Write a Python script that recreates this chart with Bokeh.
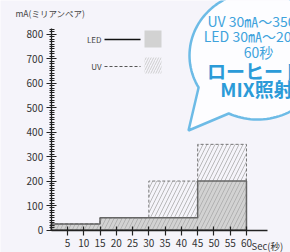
import numpy as np
from bokeh.plotting import figure
from bokeh.models import LinearAxis, FixedTicker, Range1d
from bokeh.core.properties import value
from bokeh.embed import file_html
from bokeh.resources import INLINE

# ---------------- data ----------------
time_edges = [0, 15, 30, 45, 60]          # seconds
led_ma = [25, 50, 50, 200]                 # LED current per interval
uv_ma = [25, 50, 200, 350]                 # UV current per interval
x_ticks = [5, 10, 15, 20, 25, 30, 35, 40, 45, 50, 55, 60]
y_ticks = [0, 100, 200, 300, 400, 500, 600, 700, 800]
y_minor_ticks = list(range(0, 830, 10))
x_title = "Sec(秒)"
y_title = "mA(ミリアンペア)"
legend_labels = ["LED", "UV"]
bubble_small = ["UV 30㎃～350㎃", "LED 30㎃～200㎃", "60秒"]
bubble_big = ["ローヒート", "MIX照射"]

FONT = "Noto Sans CJK JP"
BG = "#f5f4fa"
W, H = 290, 252

# page-pixel -> data helpers (layout only)
PX0, KX = 50.7, 3.2545
PY0, KY = 229.5, 0.2447
def dx(px):
    return (px - PX0) / KX
def dy(py):
    return (PY0 - py) / KY

p = figure(width=W, height=H, output_backend="svg", toolbar_location=None,
           x_range=Range1d(dx(0), dx(W)), y_range=Range1d(dy(H), dy(0)),
           x_axis_type=None, y_axis_type=None, min_border=0,
           background_fill_color=BG, border_fill_color=BG)
p.outline_line_color = None

# ---------------- step shapes ----------------
def step_polygon(edges, vals):
    xs, ys = [edges[0]], [0]
    for i, v in enumerate(vals):
        xs += [edges[i], edges[i + 1]]
        ys += [v, v]
    xs += [edges[-1]]
    ys += [0]
    return xs, ys

lx, ly = step_polygon(time_edges, led_ma)
ux, uy = step_polygon(time_edges, uv_ma)

p.patch(lx, ly, fill_color="#d2d2d2", line_color=None)
p.patch(ux, uy, fill_alpha=0, line_color=None,
        hatch_pattern="right_diagonal_line", hatch_color="#a9a9a9",
        hatch_scale=8, hatch_weight=0.8)
p.patch(ux, uy, fill_alpha=0, line_color="#777777", line_width=1, line_dash="3 2")
p.patch(lx, ly, fill_alpha=0, line_color="#666666", line_width=1.5)

# ---------------- axes ----------------
xax = LinearAxis(ticker=FixedTicker(ticks=x_ticks), fixed_location=0, bounds=(0, dx(267)))
xax.axis_line_color = "#222222"
xax.axis_line_width = 1.3
xax.major_tick_line_color = "#222222"
xax.major_tick_line_width = 1.2
xax.major_tick_in = 4
xax.major_tick_out = 5
xax.minor_tick_line_color = None
xax.major_label_standoff = 4
xax.major_label_text_font = FONT
xax.major_label_text_font_size = "10px"
xax.major_label_text_color = "#333333"
p.add_layout(xax, "below")

yax = LinearAxis(ticker=FixedTicker(ticks=y_ticks, minor_ticks=y_minor_ticks),
                 fixed_location=0, bounds=(0, dy(28)))
yax.axis_line_color = "#222222"
yax.axis_line_width = 1.3
yax.major_tick_line_color = "#222222"
yax.major_tick_line_width = 1.2
yax.major_tick_in = 5
yax.major_tick_out = 5
yax.minor_tick_line_color = "#222222"
yax.minor_tick_line_width = 1
yax.minor_tick_in = 3
yax.minor_tick_out = 2
yax.major_label_standoff = 3
yax.major_label_text_font = FONT
yax.major_label_text_font_size = "10px"
yax.major_label_text_color = "#333333"
p.add_layout(yax, "left")

# axis titles
p.text(x=[dx(15)], y=[dy(12)], text=[y_title], text_font=value(FONT),
       text_font_size="8.5px", text_color="#444444", text_baseline="middle", text_align="left")
p.text(x=[dx(251)], y=[dy(245)], text=[x_title], text_font=value(FONT),
       text_font_size="9.5px", text_color="#333333", text_baseline="middle", text_align="left")

# ---------------- legend ----------------
p.text(x=[dx(101), dx(101)], y=[dy(39), dy(66)], text=legend_labels, text_font=value(FONT),
       text_font_size="8px", text_color="#444444", text_baseline="middle", text_align="right")
p.line([dx(104), dx(140)], [dy(39), dy(39)], line_color="#111111", line_width=1.5)
p.line([dx(104), dx(140)], [dy(66), dy(66)], line_color="#555555", line_width=1, line_dash="3 2")
p.quad(left=[dx(144)], right=[dx(161)], top=[dy(30)], bottom=[dy(47)],
       fill_color="#d2d2d2", line_color=None)
p.quad(left=[dx(144)], right=[dx(161)], top=[dy(57)], bottom=[dy(73)],
       fill_alpha=0, line_color=None, hatch_pattern="right_diagonal_line",
       hatch_color="#c4c4c4", hatch_scale=5, hatch_weight=0.8)

# ---------------- speech bubble ----------------
cx, cy, rx, ry = 257, 55, 68, 64
th = np.radians(np.linspace(150, 475, 120))
bx = list(cx + rx * np.cos(th)) + [188]
by = list(cy + ry * np.sin(th)) + [130]
p.patch([dx(v) for v in bx], [dy(v) for v in by], fill_color="#fdfdff",
        line_color="#6dbbe6", line_width=2.5)

p.text(x=[dx(258)] * 3, y=[dy(20), dy(35), dy(51)], text=bubble_small, text_font=value(FONT),
       text_font_size="14px", text_color="#3fa3dc", text_baseline="middle", text_align="center")
p.text(x=[dx(254), dx(256)], y=[dy(70), dy(88)], text=bubble_big, text_font=value(FONT),
       text_font_size="19px", text_font_style="bold", text_color="#2b9bd8",
       text_baseline="middle", text_align="center")

html = file_html(p, INLINE)
html = html.replace("<body>", '<body style="background-color:%s;">' % BG, 1)
open("out.html", "w").write(html)
